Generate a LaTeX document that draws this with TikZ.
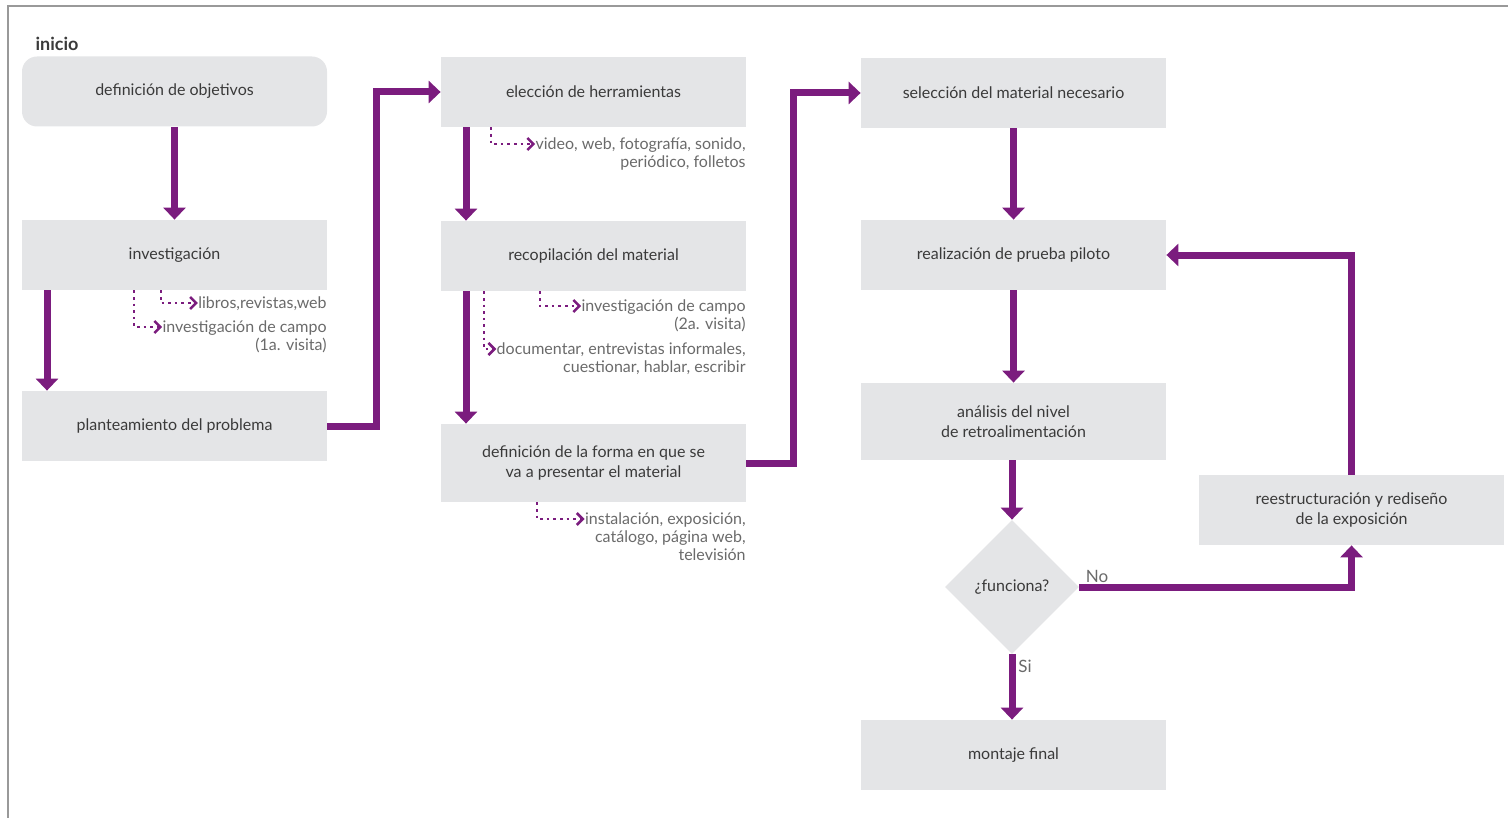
\documentclass[tikz,border=0pt]{standalone}
\usepackage{fontspec}
\setmainfont{Lato}
\usetikzlibrary{arrows.meta,shapes.geometric}
\definecolor{morado}{HTML}{7B1C7E}
\definecolor{caja}{HTML}{E4E5E7}
\definecolor{texto}{HTML}{3A3A3A}
\definecolor{gris}{HTML}{6A6A6A}
\tikzset{paso/.style={fill=caja, minimum width=152.5pt, minimum height=35pt, inner sep=0pt, text=texto, align=center, font=\fontsize{8}{10}\selectfont},
  flecha/.style={draw=morado, line width=3.5pt, -{Triangle[width=11pt,length=6pt]}},
  nota/.style={anchor=north east, inner sep=0pt, align=right, text=gris, font=\fontsize{8}{9}\selectfont},
  punteado/.style={draw=morado, dotted, line width=1.3pt, -{Straight Barb[length=3pt,width=6pt]}},
  etiqueta/.style={text=gris, inner sep=0pt, font=\fontsize{8.5}{9}\selectfont}}

\begin{document}
\begin{tikzpicture}[x=0.5pt, y=-0.5pt]
        \useasboundingbox (0,0) rectangle (1508,818);
        \draw[gray!80, line width=0.8pt] (8,818) -- (8,6) -- (1508,6);
        \node[text=texto, inner sep=0pt, font=\bfseries\fontsize{9}{10}\selectfont] (inicio) at (57,44) {inicio};
        % primera columna
        \node[paso, rounded corners=7.5pt] (obj) at (174.5,91.5) {definición de objetivos};
        \node[paso] (inv) at (174.5,255) {investigación};
        \node[paso] (plan) at (174.5,426) {planteamiento del problema};
        \node[nota] (n1) at (327,296) {libros,revistas,web};
        \node[nota] (n2) at (327,320) {investigación de campo\\(1a. visita)};
        % segunda columna
        \node[paso] (herr) at (593.5,92) {elección de herramientas};
        \node[paso] (recop) at (593.5,256) {recopilación del material};
        \node[paso, minimum height=39pt] (forma) at (593.5,463) {definición de la forma en que se\\va a presentar el material};
        \node[nota] (n3) at (746,137) {video, web, fotografía, sonido,\\periódico, folletos};
        \node[nota] (n4) at (746,299) {investigación de campo\\(2a. visita)};
        \node[nota] (n5) at (746,342) {documentar, entrevistas informales,\\cuestionar, hablar, escribir};
        \node[nota] (n6) at (746,512) {instalación, exposición,\\catálogo, página web,\\televisión};
        % tercera columna
        \node[paso] (selec) at (1013.5,93) {selección del material necesario};
        \node[paso] (piloto) at (1013.5,255) {realización de prueba piloto};
        \node[paso, minimum height=38.5pt] (anal) at (1013.5,421.5) {análisis del nivel\\de retroalimentación};
        \node[diamond, fill=caja, minimum width=67pt, minimum height=67pt, inner sep=0pt, text=texto, font=\fontsize{8}{10}\selectfont] (func) at (1012,587) {¿funciona?};
        \node[paso] (mont) at (1013.5,755) {montaje final};
        \node[paso] (reest) at (1351.5,510) {reestructuración y rediseño\\de la exposición};
        \node[etiqueta] (no) at (1097,576) {No};
        \node[etiqueta] (si) at (1025,666) {Si};
        % flechas
        \draw[flecha] (obj) -- (inv);
        \draw[flecha] (inv.south -| 47,0) -- (plan.north -| 47,0);
        \draw[flecha] (plan.east) -- (376,426) |- (herr.west);
        \draw[flecha] (herr.south -| 466,0) -- (recop.north -| 466,0);
        \draw[flecha] (recop.south -| 466,0) -- (forma.north -| 466,0);
        \draw[flecha] (forma.east) -- (793,463) |- (selec.west);
        \draw[flecha] (selec) -- (piloto);
        \draw[flecha] (piloto) -- (anal);
        \draw[flecha] (anal.south -| func) -- (func.north);
        \draw[flecha] (func.south) -- (mont.north -| func);
        \draw[flecha] (func.east) -| (reest.south);
        \draw[flecha] (reest.north) |- (piloto.east);
        % notas
        \draw[punteado] (inv.south -| 161,0) |- ([yshift=-3.5pt]n1.north west);
        \draw[punteado] (inv.south -| 134,0) |- ([yshift=-3.5pt]n2.north west);
        \draw[punteado] (herr.south -| 491,0) |- ([yshift=-3.5pt]n3.north west);
        \draw[punteado] (recop.south -| 540,0) |- ([yshift=-3.5pt]n4.north west);
        \draw[punteado] (recop.south -| 484,0) |- ([yshift=-3.5pt]n5.north west);
        \draw[punteado] (forma.south -| 537,0) |- ([yshift=-3.5pt]n6.north west);
\end{tikzpicture}
\end{document}
